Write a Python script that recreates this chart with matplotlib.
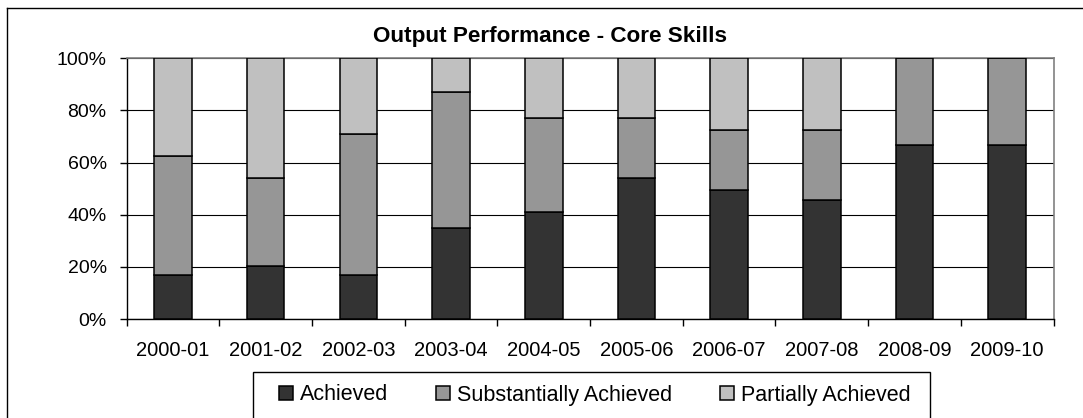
import matplotlib
matplotlib.use("Agg")
import matplotlib.pyplot as plt
from matplotlib.patches import Rectangle
from matplotlib.lines import Line2D
from matplotlib.ticker import FixedLocator, FuncFormatter
import numpy as np

plt.rcParams['font.family'] = ['Liberation Sans', 'DejaVu Sans']

categories = ['2000-01', '2001-02', '2002-03', '2003-04', '2004-05',
              '2005-06', '2006-07', '2007-08', '2008-09', '2009-10']
achieved = [16.7, 20.5, 16.7, 35.0, 41.0, 54.0, 49.5, 45.7, 66.7, 66.7]
substantially = [45.8, 33.6, 54.1, 52.1, 36.0, 23.0, 23.0, 26.8, 33.3, 33.3]
partially = [37.5, 45.9, 29.2, 12.9, 23.0, 23.0, 27.5, 27.5, 0.0, 0.0]
series_names = ['Achieved', 'Substantially Achieved', 'Partially Achieved']
colors = ['#333333', '#969696', '#C0C0C0']
yticks = [0, 20, 40, 60, 80, 100]

W, H = 1083, 418
fig = plt.figure(figsize=(W / 100, H / 100), dpi=100)
ax = fig.add_axes([126.7 / W, 1 - 319 / H, (1053.5 - 126.7) / W, (319 - 58.3) / H])

x = np.arange(len(categories))
bw = 0.405
bottoms = np.zeros(len(categories))
handles = []
for vals, name, col in zip([achieved, substantially, partially], series_names, colors):
    b = ax.bar(x, vals, bw, bottom=bottoms, color=col, edgecolor='black',
               linewidth=1.1, label=name, zorder=3)
    handles.append(b)
    bottoms = bottoms + np.array(vals)

ax.set_xlim(-0.5, len(categories) - 0.5)
ax.set_ylim(0, 100)
ax.set_yticks(yticks)
ax.yaxis.set_major_formatter(FuncFormatter(lambda v, p: f"{v:.0f}%"))
ax.set_xticks(x)
ax.set_xticklabels(categories)
ax.xaxis.set_minor_locator(FixedLocator(np.arange(-0.5, len(categories), 1.0)))
ax.tick_params(axis='x', which='major', length=0, pad=16, labelsize=14.5)
ax.tick_params(axis='x', which='minor', length=5, width=1, color='black', direction='out')
ax.tick_params(axis='y', which='major', length=5, width=1, color='black',
               direction='out', pad=9.4, labelsize=14)

ax.yaxis.grid(True, color='black', linewidth=0.8)
ax.set_axisbelow(True)
for s in ['left', 'bottom']:
    ax.spines[s].set_color('black')
    ax.spines[s].set_linewidth(1.0)
for s in ['top', 'right']:
    ax.spines[s].set_color('#808080')
    ax.spines[s].set_linewidth(1.2)

fig.text(550 / W, 1 - 41.7 / H, 'Output Performance - Core Skills', ha='center',
         va='baseline', fontsize=16.2, fontweight='bold')

# legend frame
fig.add_artist(Rectangle((253.3 / W, -0.02), (930 - 253.3) / W, 0.02 + (1 - 372.3 / H),
                         transform=fig.transFigure, facecolor='none',
                         edgecolor='black', linewidth=1.0))
fig.legend(handles=handles, labels=series_names, loc='center left',
           bbox_to_anchor=(279.3 / W, 1 - 395 / H), ncol=3, frameon=False,
           fontsize=15.5, handlelength=0.65, handleheight=0.65,
           handletextpad=0.33, columnspacing=2.2, borderpad=0, borderaxespad=0)

# outer chart border (cropped at right and bottom)
fig.add_artist(Line2D([7.3 / W, 7.3 / W], [0, 1 - 8.3 / H], transform=fig.transFigure,
                      color='black', linewidth=1.0))
fig.add_artist(Line2D([7.3 / W, 1], [1 - 8.3 / H, 1 - 8.3 / H], transform=fig.transFigure,
                      color='black', linewidth=1.0))

fig.savefig('out.png', dpi=100)
